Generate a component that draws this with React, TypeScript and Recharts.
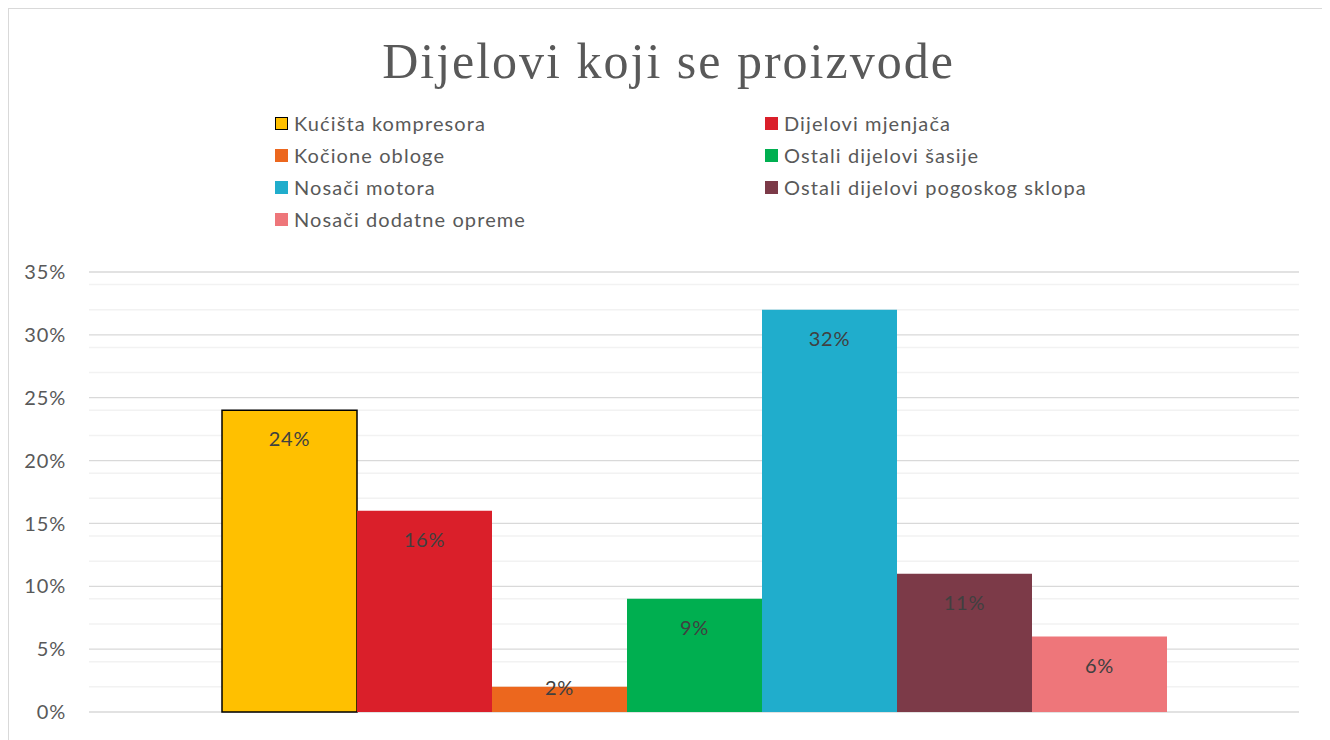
import React from 'react';
import { BarChart, Bar, XAxis, YAxis, CartesianGrid, Legend, LabelList } from 'recharts';

const seriesNames: string[] = [
  'Kućišta kompresora',
  'Dijelovi mjenjača',
  'Kočione obloge',
  'Ostali dijelovi šasije',
  'Nosači motora',
  'Ostali dijelovi pogoskog sklopa',
  'Nosači dodatne opreme',
];
const seriesValues: number[] = [24, 16, 2, 9, 32, 11, 6];
const seriesColors: string[] = ['#FFC000', '#DA1F2A', '#EC671E', '#00AF50', '#20ADCC', '#7C3A48', '#EE767A'];
const majorTicks: number[] = [0, 5, 10, 15, 20, 25, 30, 35];
const minorTicks: number[] = [
  1, 2, 3, 4, 6, 7, 8, 9, 11, 12, 13, 14, 16, 17, 18, 19,
  21, 22, 23, 24, 26, 27, 28, 29, 31, 32, 33, 34,
];

const row: Record<string, string | number> = { name: 'Dijelovi' };
seriesNames.forEach((n, i) => {
  row[n] = seriesValues[i];
});
const data = [row];

const FONT = 'Lato, "Open Sans", sans-serif';

const BarValueLabel = (props: any) => {
  const { x, y, width, height, value } = props;
  const cy = height > 40 ? y + 28 : y;
  return (
    <text
      x={x + width / 2}
      y={cy}
      textAnchor="middle"
      dominantBaseline="central"
      fill="#404040"
      fontSize={20}
      fontFamily={FONT}
      letterSpacing={0.8}
    >
      {value}%
    </text>
  );
};

const LegendGrid = () => (
  <div
    style={{
      display: 'grid',
      gridTemplateColumns: '490px 400px',
      gridAutoRows: '32px',
      fontFamily: FONT,
      fontSize: 20,
      letterSpacing: 1.1,
      color: '#595959',
    }}
  >
    {seriesNames.map((n, i) => (
      <div key={n} style={{ display: 'flex', alignItems: 'center', whiteSpace: 'nowrap' }}>
        <span
          style={{
            display: 'inline-block',
            width: i === 0 ? 11 : 13,
            height: i === 0 ? 11 : 13,
            background: seriesColors[i],
            border: i === 0 ? '1px solid #000' : 'none',
            marginRight: 6,
          }}
        />
        {n}
      </div>
    ))}
  </div>
);

const App: React.FC = () => {
  return (
    <div
      style={{
        position: 'relative',
        width: 1319,
        height: 760,
        border: '1px solid #d9d9d9',
        background: '#fff',
      }}
    >
      <div
        style={{
          position: 'absolute',
          top: 22,
          left: 0,
          width: '100%',
          textAlign: 'center',
          fontFamily: '"Liberation Serif", serif',
          fontSize: 50,
          letterSpacing: 2,
          lineHeight: '60px',
          color: '#595959',
          zIndex: 1,
        }}
      >
        Dijelovi koji se proizvode
      </div>
      <BarChart
        width={1319}
        height={760}
        data={data}
        barGap={0}
        barCategoryGap={133}
        margin={{ top: 263, right: 29, left: 0, bottom: 57 }}
      >
        <CartesianGrid
          vertical={false}
          horizontalValues={minorTicks}
          stroke="#f2f2f2"
          strokeWidth={1.5}
        />
        <CartesianGrid vertical={false} stroke="#d9d9d9" strokeWidth={1.3} />
        <XAxis dataKey="name" hide />
        <YAxis
          width={80}
          domain={[0, 35]}
          ticks={majorTicks}
          axisLine={false}
          tickLine={false}
          tickSize={0}
          tickMargin={23}
          tickFormatter={(v: number) => `${v}%`}
          tick={{ fill: '#595959', fontSize: 20, fontFamily: FONT, letterSpacing: 0.8 }}
        />
        <Legend
          verticalAlign="middle"
          align="center"
          layout="horizontal"
          wrapperStyle={{ top: 98, left: 266, width: 900 }}
          content={<LegendGrid />}
        />
        {seriesNames.map((n, i) => (
          <Bar
            key={n}
            dataKey={n}
            fill={seriesColors[i]}
            stroke={i === 0 ? '#000' : 'none'}
            strokeWidth={i === 0 ? 1.5 : 0}
            isAnimationActive={false}
          >
            <LabelList dataKey={n} content={<BarValueLabel />} />
          </Bar>
        ))}
      </BarChart>
    </div>
  );
};

export default App;
